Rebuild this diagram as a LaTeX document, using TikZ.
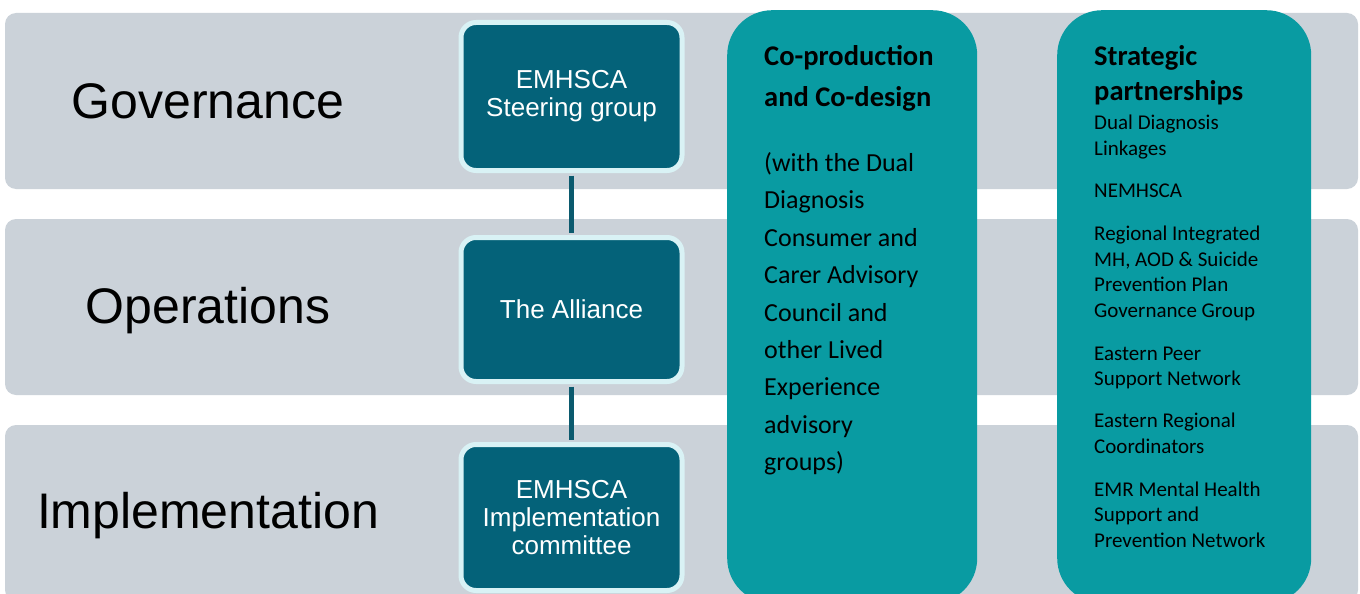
\documentclass[tikz,border=0pt]{standalone}
\usepackage{fontspec}
\setmainfont{Liberation Sans}
\newfontfamily\calfont{Carlito}
\definecolor{bandgrey}{HTML}{CBD2D9}
\definecolor{boxdark}{HTML}{046279}
\definecolor{boxrim}{HTML}{D9F2F5}
\definecolor{pillteal}{HTML}{099BA2}
\definecolor{linkcol}{HTML}{0B5A6E}
\begin{document}
\begin{tikzpicture}[
            x = 1pt, y = -1pt,
            band/.style = {fill=bandgrey, rounded corners=11pt, inner sep=0pt, minimum width=1353pt, minimum height=176pt},
            tier/.style = {anchor=base, inner sep=0pt, font=\fontsize{50}{60}\selectfont},
            unit/.style = {draw=boxrim, fill=boxdark, line width=5pt, rounded corners=15pt, minimum width=221pt, minimum height=148pt, text=white, align=center, font=\fontsize{26}{28}\selectfont},
            pill/.style = {fill=pillteal, rounded corners=45pt, anchor=north west, inner sep=0pt, minimum height=593pt},
            head/.style = {anchor=base west, align=left, inner sep=0pt, font=\calfont\bfseries\fontsize{28.5}{41}\selectfont},
            body/.style = {anchor=base west, align=left, inner sep=0pt, font=\calfont\fontsize{26}{37.4}\selectfont},
            entry/.style = {anchor=base west, align=left, inner sep=0pt, font=\calfont\fontsize{21}{25.6}\selectfont},
            link/.style = {draw=linkcol, line width=4.5pt, shorten <=2.5pt, shorten >=2.5pt},
        ]
        \useasboundingbox (0,0) rectangle (1360,594);
        \clip (0,0) rectangle (1360,594);

        \node (GOV) [band] at (681.5,101) {};
        \node (OPS) [band] at (681.5,307) {};
        \node (IMP) [band] at (681.5,513) {};

        \node (GOVL) [tier] at (208,118) {Governance};
        \node (OPSL) [tier] at (208,323) {Operations};
        \node (IMPL) [tier] at (208,528) {Implementation};

        \node (COPROD) [pill, minimum width=250pt] at (727,10) {};
        \node (PARTNER) [pill, minimum width=254pt] at (1057,10) {};

        \node (STEER) [unit] at (571.5,96.5) {EMHSCA\\Steering group};
        \node (ALLY) [unit, minimum height=144pt] at (571.5,309.5) {The Alliance};
        \node (IMPC) [unit, minimum height=146pt] at (571.5,517.5) {EMHSCA\\Implementation\\committee};

        \path[link] (STEER) -- (ALLY);
        \path[link] (ALLY) -- (IMPC);

        % multi-line nodes sit on the baseline of their last line
        \node (CPHEAD) [head] at (764,106.7) {Co-production\\and Co-design};
        \node (CPBODY) [body] at (764,470.7) {(with the Dual\\Diagnosis\\Consumer and\\Carer Advisory\\Council and\\other Lived\\Experience\\advisory\\groups)};

        \node (SPHEAD) [head, font=\calfont\bfseries\fontsize{28.5}{35}\selectfont] at (1094,100) {Strategic\\partnerships};
        \node (SPDUAL) [entry] at (1094,155) {Dual Diagnosis\\Linkages};
        \node (SPNEM) [entry] at (1094,197.5) {NEMHSCA};
        \node (SPPLAN) [entry] at (1094,317.3) {Regional Integrated\\MH, AOD \& Suicide\\Prevention Plan\\Governance Group};
        \node (SPPEER) [entry] at (1094,385.7) {Eastern Peer\\Support Network};
        \node (SPCOORD) [entry] at (1094,453.3) {Eastern Regional\\Coordinators};
        \node (SPEMR) [entry] at (1094,547.3) {EMR Mental Health\\Support and\\Prevention Network};
    \end{tikzpicture}
\end{document}
